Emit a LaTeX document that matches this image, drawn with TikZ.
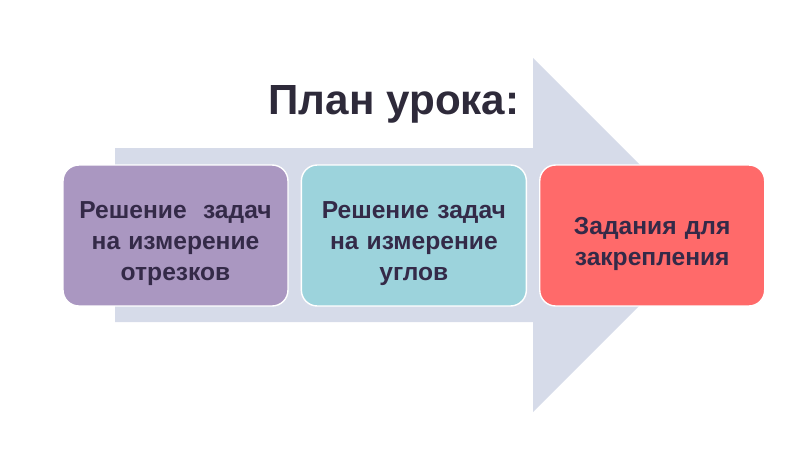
\documentclass[tikz,border=0pt]{standalone}
\usepackage{fontspec}
\setmainfont{Liberation Sans}
\usepackage{xcolor}
\usepackage{tikz}
\usetikzlibrary{positioning,backgrounds}
\definecolor{arrowgray} {RGB}{214,219,233}
\definecolor{steplilac} {RGB}{170,151,193}
\definecolor{stepteal}  {RGB}{156,211,220}
\definecolor{stepred}   {RGB}{255,106,106}
\definecolor{textdark}  {RGB}{52,42,72}
\definecolor{titledark} {RGB}{46,42,58}
\tikzset{
  planbox/.style={draw=white, line width=0.8pt, rounded corners=9pt,
                  align=center, minimum width=4.5cm, minimum height=2.82cm,
                  text width=4.3cm, font=\fontsize{14}{17.5}\selectfont\bfseries,
                  text=textdark, inner sep=0pt,
                  execute at begin node={\rule{0pt}{19pt}}},
  lilacbox/.style={planbox, fill=steplilac},
  tealbox/.style ={planbox, fill=stepteal},
  redbox/.style  ={planbox, fill=stepred},
}

\begin{document}
\begin{tikzpicture}[x=0.02cm, y=-0.02cm]
  \useasboundingbox (0,0) rectangle (800,450);
  % big background arrow
  \fill[arrowgray] (115,148) -- (533,148) -- (533,58) -- (710,235)
        -- (533,412) -- (533,322) -- (115,322) -- cycle;

  \node[font=\fontsize{24}{29}\selectfont\bfseries, text=titledark] (title)
        at (394,104) {План урока:};

  \node[lilacbox] (seg) at (175.5,235.5) {Решение~~задач\\на измерение\\отрезков};
  \node[tealbox, right=0.24cm of seg] (ang) {Решение задач\\на измерение\\углов};
  \node[redbox, right=0.24cm of ang] (fix) {Задания для\\закрепления};
\end{tikzpicture}
\end{document}
